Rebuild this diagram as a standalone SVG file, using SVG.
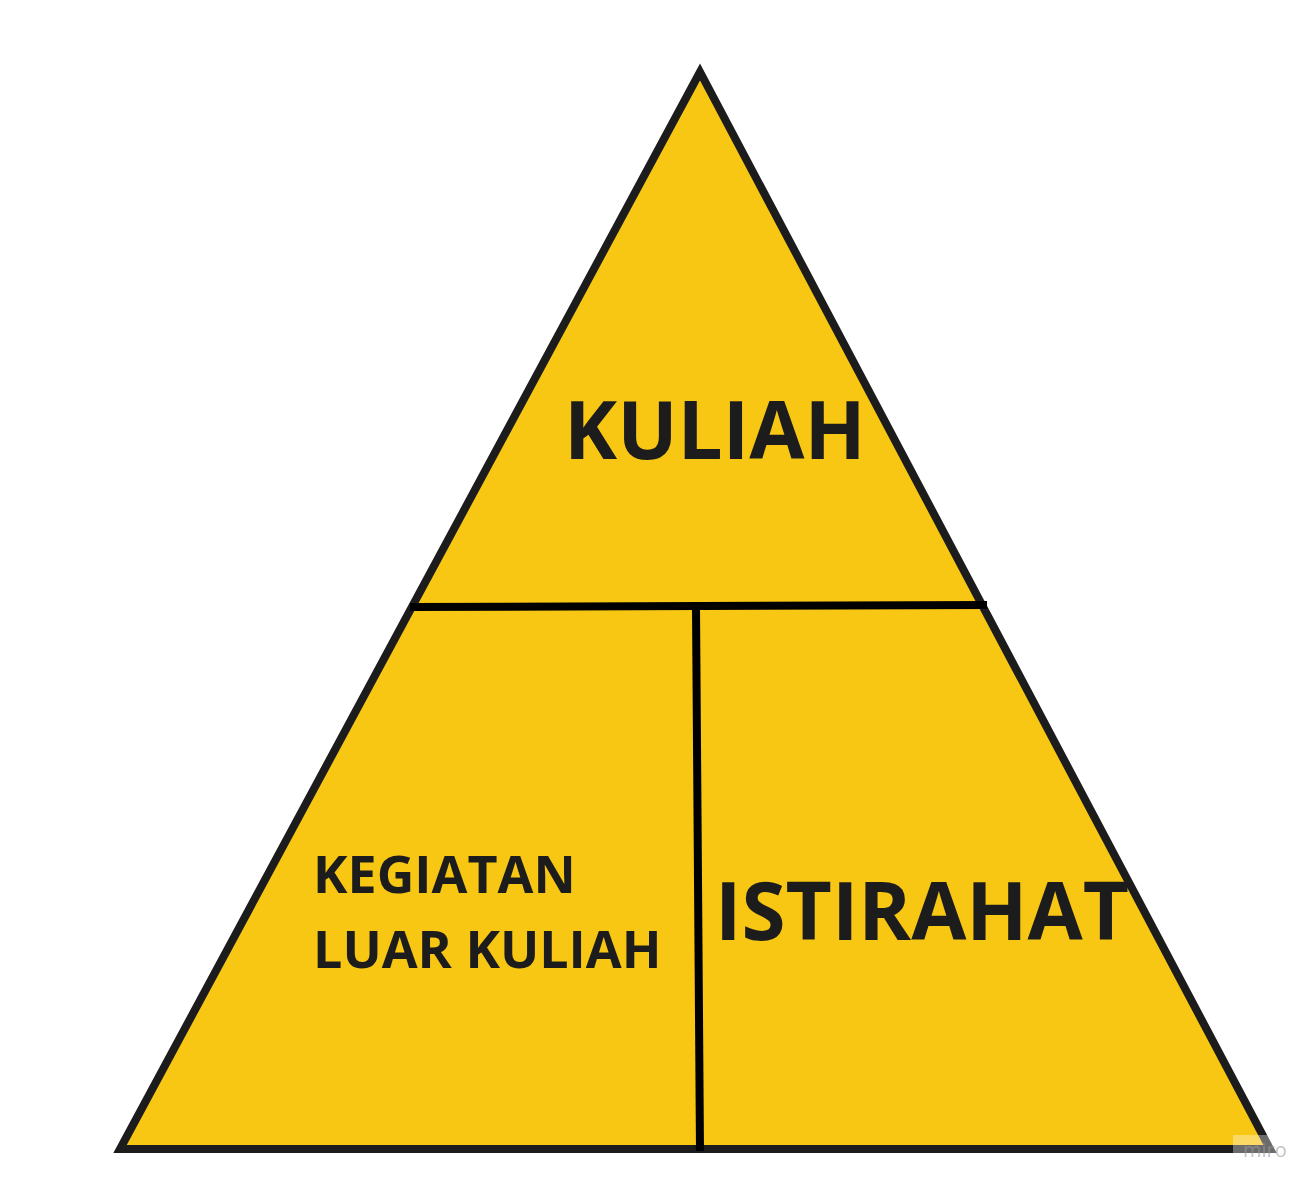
<svg xmlns="http://www.w3.org/2000/svg" width="1315" height="1187" viewBox="0 0 1315 1187">
  <style>
    .lbl { font-family: "Open Sans", "Liberation Sans", sans-serif; font-weight: bold; fill: #1c1c1c; }
    .div { stroke: #000; stroke-width: 8; fill: none; }
  </style>
  <rect width="1315" height="1187" fill="#ffffff"/>
  <g id="pyramid">
    <polygon points="700,72 120,1149 1270,1149" fill="#F8C713" stroke="#1c1c1c" stroke-width="8" stroke-linejoin="miter"/>
  </g>
  <g id="connectors">
    <line class="div" x1="410" y1="607" x2="987" y2="605"/>
    <line class="div" x1="696" y1="608" x2="700" y2="1151"/>
  </g>
  <g id="node-kuliah">
    <text class="lbl" x="564" y="459" font-size="80">KULIAH</text>
  </g>
  <g id="node-kegiatan">
    <text class="lbl" x="313" y="893" font-size="52">KEGIATAN</text>
    <text class="lbl" x="313" y="968" font-size="52">LUAR KULIAH</text>
  </g>
  <g id="node-istirahat">
    <text class="lbl" x="715" y="940" font-size="80">ISTIRAHAT</text>
  </g>
  <g id="watermark">
    <rect x="1233" y="1135" width="50" height="25" fill="#ffffff" fill-opacity="0.35"/>
    <text x="1243" y="1157" font-family="Open Sans, Liberation Sans, sans-serif" font-size="20" fill="#9a9a9a" fill-opacity="0.6">miro</text>
  </g>
</svg>
